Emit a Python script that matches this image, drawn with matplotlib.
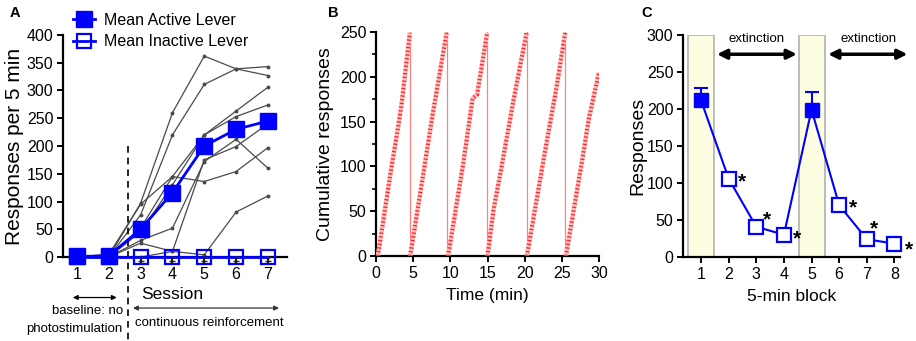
import matplotlib
matplotlib.use("Agg")
import matplotlib.pyplot as plt
import numpy as np
from matplotlib.ticker import MultipleLocator

plt.rcParams['font.family'] = ['Liberation Sans', 'DejaVu Sans']

# ---------------- Panel A data ----------------
sessions = [1, 2, 3, 4, 5, 6, 7]
subj1 = [0, 0, 97, 260, 362, 339, 327]
subj2 = [0, 0, 76, 220, 311, 339, 343]
subj3 = [2, 3, 52, 145, 220, 263, 306]
subj4 = [0, 0, 45, 130, 220, 253, 274]
subj5 = [0, 0, 30, 52, 172, 212, 160]
subj6 = [0, 5, 95, 145, 136, 154, 197]
subj7 = [0, 0, 25, 10, 4, 81, 110]
subj8 = [0, 0, 0, 10, 175, 199, 240]
mean_active = [1, 2, 50, 116, 200, 230, 245]
mean_inactive = [0, 0, 0, 0, 0, 0, 0]
inactive_err = [0, 0, 8, 8, 8, 8, 8]

# ---------------- Panel B data (key points of each cumulative record) ----------------
ramp1_t = [0.25, 2.0, 2.9, 3.45, 4.55]
ramp1_v = [0, 95, 140, 170, 249]
ramp2_t = [4.6, 6.6, 7.5, 9.5]
ramp2_v = [0, 104, 152, 249]
ramp3_t = [9.7, 11.75, 13.0, 13.6, 14.95]
ramp3_v = [0, 104, 176, 180, 249]
ramp4_t = [15.0, 15.8, 16.9, 18.5, 20.25]
ramp4_v = [0, 51, 100, 174, 249]
ramp5_t = [20.3, 22.7, 24.3, 25.45]
ramp5_v = [0, 115, 189, 249]
ramp6_t = [25.55, 27.9, 28.6, 30.0]
ramp6_v = [0, 115, 152, 205]
reset_times = [4.57, 9.55, 14.95, 20.27, 25.47]

# ---------------- Panel C data ----------------
blocks = [1, 2, 3, 4, 5, 6, 7, 8]
responses = [212, 106, 41, 30, 199, 70, 24, 18]
resp_err = [17, 0, 0, 0, 24, 0, 0, 0]
filled_blocks = [1, 5]
open_blocks = [2, 3, 4, 6, 7, 8]

BLUE = '#0000ff'
fig = plt.figure(figsize=(9.16, 3.41), dpi=100)
W, H = 916, 341

def ax_px(l, r, t, b):
    return fig.add_axes([l / W, 1 - b / H, (r - l) / W, (b - t) / H])

TICK = 11.5

def style(ax):
    for s in ['top', 'right']:
        ax.spines[s].set_visible(False)
    for s in ['left', 'bottom']:
        ax.spines[s].set_linewidth(1.6)
    ax.tick_params(direction='out', length=4.5, width=1.4, labelsize=TICK, pad=2.5)
    ax.tick_params(which='minor', direction='out', length=3, width=1.2)

# ================= Panel A =================
axA = ax_px(63, 287, 35, 257)
style(axA)
for s in [subj1, subj2, subj3, subj4, subj5, subj6, subj7, subj8]:
    axA.plot(sessions, s, color='#4a4a4a', lw=0.9, marker='o', ms=1.8, zorder=2)
axA.errorbar(sessions, mean_inactive, yerr=[inactive_err, [0]*7], fmt='none',
             ecolor='#222222', elinewidth=1.0, capsize=2.5, capthick=1.0, zorder=4, clip_on=False)
lA1, = axA.plot(sessions, mean_active, color=BLUE, lw=2, marker='s', ms=11.5,
                mfc=BLUE, mec=BLUE, zorder=5, clip_on=False, label='Mean Active Lever')
lA2, = axA.plot(sessions, mean_inactive, color=BLUE, lw=2, marker='s', ms=10.5,
                mfc='none', mec=BLUE, mew=1.6, zorder=3, clip_on=False, label='Mean Inactive Lever')
axA.set_xlim(0.56, 7.6)
axA.set_ylim(0, 400)
axA.set_xticks(sessions)
axA.yaxis.set_major_locator(MultipleLocator(50))
axA.set_ylabel('Responses per 5 min', fontsize=15, labelpad=2)
axA.plot([2.6, 2.6], [200, -155], ls=(0, (4, 3)), color='black', lw=1.2, clip_on=False)
axA.text(3.98, -68, 'Session', fontsize=12.5, ha='center', va='center')
axA.annotate('', xy=(0.87, -73), xytext=(2.25, -73), annotation_clip=False,
             arrowprops=dict(arrowstyle='<|-|>', color='black', lw=0.9, mutation_scale=7,
                             shrinkA=0, shrinkB=0))
axA.annotate('', xy=(2.76, -92), xytext=(7.35, -92), annotation_clip=False,
             arrowprops=dict(arrowstyle='<|-|>', color='#333333', lw=0.9, mutation_scale=7,
                             shrinkA=0, shrinkB=0))
axA.text(2.44, -97, 'baseline: no', fontsize=9.5, ha='right', va='center')
axA.text(2.44, -130, 'photostimulation', fontsize=9.5, ha='right', va='center')
axA.text(2.82, -119, 'continuous reinforcement', fontsize=9.5, ha='left', va='center')
fig.legend(handles=[lA1, lA2], loc='upper left', bbox_to_anchor=(73 / W, 1 - 13 / H),
           frameon=False, fontsize=TICK, handlelength=1.4, handletextpad=0.55,
           labelspacing=0.4, borderpad=0, borderaxespad=0)
fig.text(10 / W, 1 - 13 / H, 'A', fontsize=10.5, fontweight='bold', ha='left', va='center')

# ================= Panel B =================
axB = ax_px(376, 599, 32, 256)
style(axB)
for t in reset_times:
    axB.plot([t, t], [0, 250], color='#ff8080', lw=0.9, zorder=2)
for tt, vv in [(ramp1_t, ramp1_v), (ramp2_t, ramp2_v), (ramp3_t, ramp3_v),
               (ramp4_t, ramp4_v), (ramp5_t, ramp5_v), (ramp6_t, ramp6_v)]:
    axB.plot(tt, vv, color='#ffbcbc', lw=3.2, zorder=3, solid_capstyle='butt')
    axB.plot(tt, vv, color='#ff2020', lw=3.0, ls=(0, (0.3, 0.6)), zorder=4)
axB.set_xlim(0, 30)
axB.set_ylim(0, 250)
axB.xaxis.set_major_locator(MultipleLocator(5))
axB.yaxis.set_major_locator(MultipleLocator(50))
axB.yaxis.set_minor_locator(MultipleLocator(25))
axB.set_xlabel('Time (min)', fontsize=12.5, labelpad=5)
axB.set_ylabel('Cumulative responses', fontsize=14, labelpad=4)
fig.text(328 / W, 1 - 13 / H, 'B', fontsize=10.5, fontweight='bold', ha='left', va='center')

# ================= Panel C =================
axC = ax_px(683, 900, 35, 257)
style(axC)
for c in [1, 5]:
    axC.axvspan(c - 0.47, c + 0.47, ymin=0, ymax=1, facecolor='#fdfde2',
                edgecolor='#b0b0b0', lw=1.2, zorder=0)
axC.errorbar(blocks, responses, yerr=[[0]*8, resp_err], fmt='none', ecolor=BLUE,
             elinewidth=1.5, capsize=5, capthick=1.5, zorder=3)
axC.plot(blocks, responses, color=BLUE, lw=1.5, zorder=3)
axC.plot(filled_blocks, [responses[b - 1] for b in filled_blocks], ls='none', marker='s',
         ms=10.5, mfc=BLUE, mec=BLUE, zorder=5, clip_on=False)
axC.plot(open_blocks, [responses[b - 1] for b in open_blocks], ls='none', marker='s',
         ms=9.5, mfc='white', mec=BLUE, mew=1.6, zorder=5, clip_on=False)
star_offsets = {2: (0.48, 0), 3: (0.38, 14), 4: (0.47, 0), 6: (0.49, 2), 7: (0.27, 19), 8: (0.52, -3)}
for b, (dx, dy) in star_offsets.items():
    axC.text(b + dx, responses[b - 1] + dy - 5, '*', fontsize=15, fontweight='bold',
             ha='center', va='center', clip_on=False)
axC.set_xlim(0.35, 8.2)
axC.set_ylim(0, 300)
axC.set_xticks(blocks)
axC.yaxis.set_major_locator(MultipleLocator(50))
axC.set_xlabel('5-min block', fontsize=12.5, labelpad=5)
axC.set_ylabel('Responses', fontsize=14, labelpad=0)
for x0, x1 in [(1.58, 4.47), (5.6, 8.47)]:
    axC.annotate('', xy=(x0, 274), xytext=(x1, 274), annotation_clip=False,
                 arrowprops=dict(arrowstyle='<|-|>', color='black', lw=2.5, mutation_scale=14,
                                 shrinkA=0, shrinkB=0))
axC.text(3.0, 295, 'extinction', fontsize=9.5, ha='center', va='center', clip_on=False)
axC.text(7.05, 295, 'extinction', fontsize=9.5, ha='center', va='center', clip_on=False)
fig.text(641 / W, 1 - 13 / H, 'C', fontsize=10.5, fontweight='bold', ha='left', va='center')

fig.savefig('out.png', dpi=100)
